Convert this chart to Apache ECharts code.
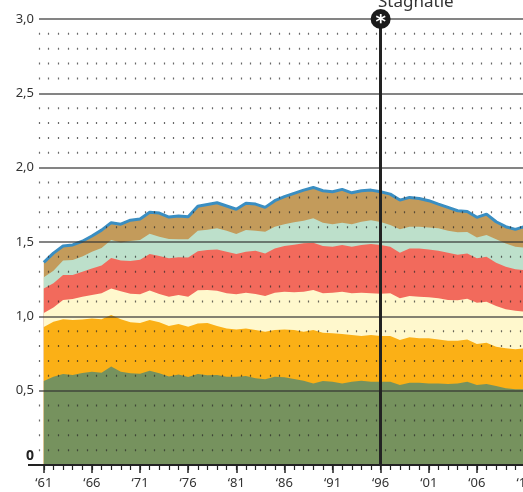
<!DOCTYPE html>
<html>
<head>
<meta charset="utf-8">
<script src="https://cdn.jsdelivr.net/npm/echarts@6/dist/echarts.min.js"></script>
<style>
  html, body { margin: 0; padding: 0; background: #fff; overflow: hidden; }
  #chart { width: 523px; height: 492px; }
</style>
</head>
<body>
<div id="chart"></div>
<script>
// jaren (x-as)
var years = [1961, 1962, 1963, 1964, 1965, 1966, 1967, 1968, 1969, 1970,
  1971, 1972, 1973, 1974, 1975, 1976, 1977, 1978, 1979, 1980,
  1981, 1982, 1983, 1984, 1985, 1986, 1987, 1988, 1989, 1990,
  1991, 1992, 1993, 1994, 1995, 1996, 1997, 1998, 1999, 2000,
  2001, 2002, 2003, 2004, 2005, 2006, 2007, 2008, 2009, 2010, 2011];
var tickYears = [1961, 1966, 1971, 1976, 1981, 1986, 1991, 1996, 2001, 2006, 2011];
var yTicks = [0, 0.5, 1, 1.5, 2, 2.5, 3];

var groenTop = [0.565, 0.594, 0.612, 0.605, 0.619, 0.627, 0.621, 0.663, 0.627, 0.617,
  0.614, 0.634, 0.617, 0.596, 0.608, 0.592, 0.612, 0.603, 0.605, 0.594,
  0.594, 0.598, 0.583, 0.576, 0.594, 0.590, 0.578, 0.567, 0.549, 0.565,
  0.560, 0.549, 0.560, 0.567, 0.560, 0.560, 0.560, 0.538, 0.553, 0.553,
  0.549, 0.549, 0.545, 0.549, 0.560, 0.538, 0.545, 0.531, 0.516, 0.509, 0.509];
var oranjeTop = [0.928, 0.964, 0.980, 0.975, 0.978, 0.986, 0.980, 1.009, 0.980, 0.960,
  0.955, 0.975, 0.960, 0.935, 0.948, 0.930, 0.952, 0.955, 0.935, 0.919,
  0.912, 0.919, 0.908, 0.896, 0.908, 0.912, 0.908, 0.896, 0.908, 0.890,
  0.886, 0.881, 0.874, 0.868, 0.874, 0.868, 0.868, 0.841, 0.859, 0.852,
  0.852, 0.845, 0.836, 0.836, 0.845, 0.814, 0.822, 0.796, 0.785, 0.778, 0.785];
var geelTop = [1.022, 1.060, 1.110, 1.116, 1.132, 1.143, 1.155, 1.188, 1.168, 1.152,
  1.148, 1.173, 1.150, 1.132, 1.143, 1.132, 1.175, 1.177, 1.172, 1.155,
  1.148, 1.159, 1.150, 1.137, 1.159, 1.166, 1.162, 1.166, 1.177, 1.155,
  1.159, 1.166, 1.155, 1.159, 1.155, 1.152, 1.155, 1.121, 1.137, 1.132,
  1.128, 1.121, 1.110, 1.108, 1.118, 1.091, 1.098, 1.069, 1.047, 1.038, 1.031];
var roodTop = [1.188, 1.222, 1.278, 1.278, 1.300, 1.322, 1.342, 1.393, 1.375, 1.372,
  1.380, 1.419, 1.405, 1.390, 1.398, 1.395, 1.438, 1.446, 1.450, 1.435,
  1.419, 1.435, 1.441, 1.423, 1.457, 1.473, 1.482, 1.491, 1.495, 1.473,
  1.468, 1.480, 1.468, 1.480, 1.486, 1.480, 1.468, 1.428, 1.457, 1.457,
  1.450, 1.441, 1.428, 1.415, 1.423, 1.390, 1.400, 1.360, 1.334, 1.316, 1.311];
var lichtgroenTop = [1.263, 1.307, 1.376, 1.379, 1.403, 1.435, 1.460, 1.513, 1.497, 1.506,
  1.513, 1.555, 1.535, 1.520, 1.518, 1.518, 1.575, 1.583, 1.592, 1.576,
  1.553, 1.580, 1.576, 1.569, 1.603, 1.620, 1.633, 1.643, 1.659, 1.630,
  1.620, 1.630, 1.620, 1.636, 1.647, 1.634, 1.614, 1.585, 1.603, 1.603,
  1.598, 1.592, 1.576, 1.565, 1.567, 1.531, 1.547, 1.518, 1.490, 1.468, 1.462];
var totaal = [1.363, 1.425, 1.473, 1.480, 1.505, 1.540, 1.580, 1.630, 1.620, 1.647,
  1.655, 1.700, 1.695, 1.668, 1.675, 1.670, 1.740, 1.752, 1.764, 1.742,
  1.720, 1.760, 1.755, 1.733, 1.778, 1.805, 1.827, 1.849, 1.867, 1.845,
  1.838, 1.854, 1.831, 1.845, 1.849, 1.838, 1.822, 1.782, 1.800, 1.793,
  1.778, 1.755, 1.733, 1.710, 1.705, 1.666, 1.688, 1.636, 1.603, 1.585, 1.605];

var markYear = 1996;
var markLabel = 'Stagnatie';

function pairs(vals) {
  return years.map(function (y, i) { return [y, vals[i]]; });
}

var layers = [
  { data: totaal, color: '#c39b5b', line: '#3a8ec2' },
  { data: lichtgroenTop, color: '#bde0cb' },
  { data: roodTop, color: '#f26a5c' },
  { data: geelTop, color: '#fff8cd' },
  { data: oranjeTop, color: '#fbb016' },
  { data: groenTop, color: '#76925e' }
];

var chart = echarts.init(document.getElementById('chart'));
var gridTop = 19, gridBottom = 27;
var rowGap = (492 - gridTop - gridBottom) / 30;
var dot = 2;
// stippen op elke 0,1 behalve op de doorgetrokken 0,5-lijnen
var dotPattern = [dot, rowGap - dot, dot, rowGap - dot, dot, rowGap - dot, dot, 2 * rowGap - dot];

var series = layers.map(function (l) {
  return {
    type: 'line',
    data: pairs(l.data),
    symbol: 'none',
    silent: true,
    lineStyle: l.line ? { color: l.line, width: 3 } : { width: 0 },
    areaStyle: { color: l.color, opacity: 1 }
  };
});

series.push({
  type: 'line',
  data: [],
  markLine: {
    z: 8,
    silent: true,
    symbol: 'none',
    label: { show: false },
    lineStyle: { color: '#222', width: 3, type: 'solid' },
    data: [{ xAxis: markYear }]
  },
  markPoint: {
    z: 9,
    silent: true,
    symbol: 'circle',
    symbolSize: 20,
    itemStyle: { color: '#1a1a1a' },
    label: {
      show: true, formatter: '*', color: '#fff', fontSize: 20, fontWeight: 'bold',
      fontFamily: 'DejaVu Sans', offset: [0, 4]
    },
    data: [{ coord: [markYear, 3] }]
  }
});

chart.setOption({
  animation: false,
  grid: { left: 39, right: -2, top: gridTop, bottom: gridBottom, containLabel: false, outerBoundsMode: 'none' },
  xAxis: [
    {
      type: 'value', min: 1960.5, max: 2011, z: 6, position: 'bottom',
      axisLine: { show: true, lineStyle: { color: '#222', width: 2 } },
      axisTick: { show: true, customValues: tickYears, length: 8, lineStyle: { color: '#222', width: 1.5 } },
      axisLabel: {
        customValues: tickYears, margin: 12, color: '#333', fontSize: 13,
        fontFamily: 'Noto Sans',
        formatter: function (v) { return '\u2018' + String(v).slice(2); }
      },
      splitLine: { show: false }
    },
    {
      type: 'value', min: 1960.5, max: 2011, z: 6, position: 'bottom',
      axisLine: { show: false },
      axisTick: { show: true, customValues: years, length: 5, lineStyle: { color: '#222', width: 1.2 } },
      axisLabel: { show: false },
      splitLine: { show: false }
    },
    {
      type: 'value', min: 1960.5, max: 2011, interval: 1, z: 4, position: 'bottom',
      axisLine: { show: false }, axisTick: { show: false }, axisLabel: { show: false },
      splitLine: {
        show: true,
        lineStyle: { color: 'rgba(40,40,40,0.7)', width: 1.2, type: dotPattern, dashOffset: 4 * rowGap + dot / 2 }
      }
    }
  ],
  yAxis: {
    type: 'value', min: 0, max: 3, interval: 0.5, z: 5,
    axisLine: { show: false }, axisTick: { show: false },
    axisLabel: {
      margin: 5, color: '#333', fontSize: 13, fontFamily: 'Noto Sans',
      customValues: yTicks,
      formatter: function (v) {
        if (v === 0) return '{z|0}';
        return v.toFixed(1).replace('.', ',');
      },
      rich: { z: { fontWeight: 'bold', fontSize: 14, color: '#222', padding: [0, 0, 18, 0], fontFamily: 'Noto Sans' } }
    },
    splitLine: { show: true, lineStyle: { color: 'rgba(50,50,50,0.6)', width: 2 } }
  },
  graphic: [
    { type: 'line', shape: { x1: 28, y1: 465, x2: 40, y2: 465 }, style: { stroke: '#222', lineWidth: 2 } },
    { type: 'text', left: 378, top: -6, style: { text: markLabel, fill: '#333', fontSize: 17, fontFamily: 'Noto Sans' } }
  ],
  series: series
});
</script>
</body>
</html>
